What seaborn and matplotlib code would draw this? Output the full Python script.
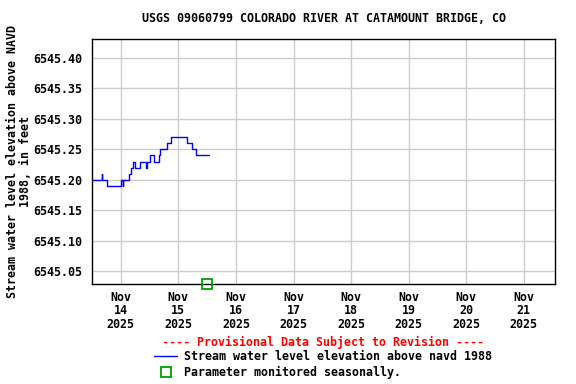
import pandas as pd
import matplotlib
matplotlib.use("Agg")
import matplotlib.pyplot as plt
from matplotlib.lines import Line2D
import seaborn as sns

# readings (step data)
times = ["2025-11-13 12:00", "2025-11-13 16:00", "2025-11-13 16:15", "2025-11-13 18:15",
         "2025-11-14 00:00", "2025-11-14 00:45", "2025-11-14 01:00", "2025-11-14 03:30",
         "2025-11-14 04:15", "2025-11-14 05:00", "2025-11-14 05:45", "2025-11-14 08:00",
         "2025-11-14 10:30", "2025-11-14 11:00", "2025-11-14 12:00", "2025-11-14 13:45",
         "2025-11-14 15:45", "2025-11-14 16:30", "2025-11-14 19:15", "2025-11-14 21:00",
         "2025-11-15 03:30", "2025-11-15 05:30", "2025-11-15 07:30", "2025-11-15 12:45"]
levels = [6545.20, 6545.21, 6545.20, 6545.19,
          6545.20, 6545.19, 6545.20, 6545.21,
          6545.22, 6545.23, 6545.22, 6545.23,
          6545.22, 6545.23, 6545.24, 6545.23,
          6545.24, 6545.25, 6545.26, 6545.27,
          6545.26, 6545.25, 6545.24, 6545.24]

seasonal_time = ["2025-11-15 12:00"]

tick_days = pd.date_range("2025-11-14", "2025-11-21", freq="D")
yticks = [6545.05, 6545.10, 6545.15, 6545.20, 6545.25, 6545.30, 6545.35, 6545.40]

df = pd.DataFrame({"Time": pd.to_datetime(times), "Level": levels})

sns.set_theme(style="whitegrid")
plt.rcParams['font.family'] = ['DejaVu Sans Mono']
plt.rcParams['font.weight'] = 'bold'
plt.rcParams['text.color'] = 'black'
plt.rcParams['axes.labelcolor'] = 'black'
plt.rcParams['xtick.color'] = 'black'
plt.rcParams['ytick.color'] = 'black'

fs = 8.4

fig = plt.figure(figsize=(5.76, 3.84), dpi=100)
ax = fig.add_axes([92/576, 1-284/384, (555-92)/576, (284-39)/384])

sns.lineplot(data=df, x="Time", y="Level", ax=ax, color="#0000ff", linewidth=1,
             drawstyle="steps-post")

ymin, ymax = 6545.029, 6545.431
ax.plot(pd.to_datetime(seasonal_time), [ymin], marker="s", markersize=6.5,
        markerfacecolor="none", markeredgecolor="#00a000", markeredgewidth=1.3,
        linestyle="none", clip_on=False, zorder=5)

ax.set_xlim(pd.Timestamp("2025-11-13 12:00"), pd.Timestamp("2025-11-21 13:00"))
ax.set_ylim(ymin, ymax)
ax.set_xticks(tick_days)
ax.set_xticklabels([d.strftime("%b\n%d\n%Y") for d in tick_days], fontsize=fs,
                   fontweight="bold", linespacing=1.05)
ax.set_yticks(yticks)
ax.set_yticklabels([f"{v:.2f}" for v in yticks], fontsize=fs, fontweight="bold")
ax.tick_params(axis="y", length=0, pad=7)
ax.tick_params(axis="x", length=0, pad=5)
ax.grid(True, color="#cccccc", linewidth=1)
for s in ax.spines.values():
    s.set_color("black")
    s.set_linewidth(1)

ax.set_xlabel("")
ax.set_ylabel("Stream water level elevation above NAVD\n1988, in feet", fontsize=fs,
              fontweight="bold", labelpad=1, linespacing=1.0)
ax.set_title("USGS 09060799 COLORADO RIVER AT CATAMOUNT BRIDGE, CO", fontsize=fs,
             fontweight="bold", pad=12)

fig.text(323/576, 1-342/384, "---- Provisional Data Subject to Revision ----",
         color="red", fontsize=fs, fontweight="bold", ha="center", va="center")
handles = [Line2D([], [], color="#0000ff", linewidth=1),
           Line2D([], [], marker="s", markersize=6.5, markerfacecolor="none",
                  markeredgecolor="#00a000", markeredgewidth=1.3, linestyle="none")]
fig.legend(handles, ["Stream water level elevation above navd 1988",
                     "Parameter monitored seasonally."],
           loc="upper left", bbox_to_anchor=(148/576, 1-344/384), frameon=False,
           prop={"size": fs, "weight": "bold"}, handlelength=2.0, handletextpad=0.55,
           labelspacing=0.25, borderpad=0)

fig.savefig("out.png", dpi=100)
